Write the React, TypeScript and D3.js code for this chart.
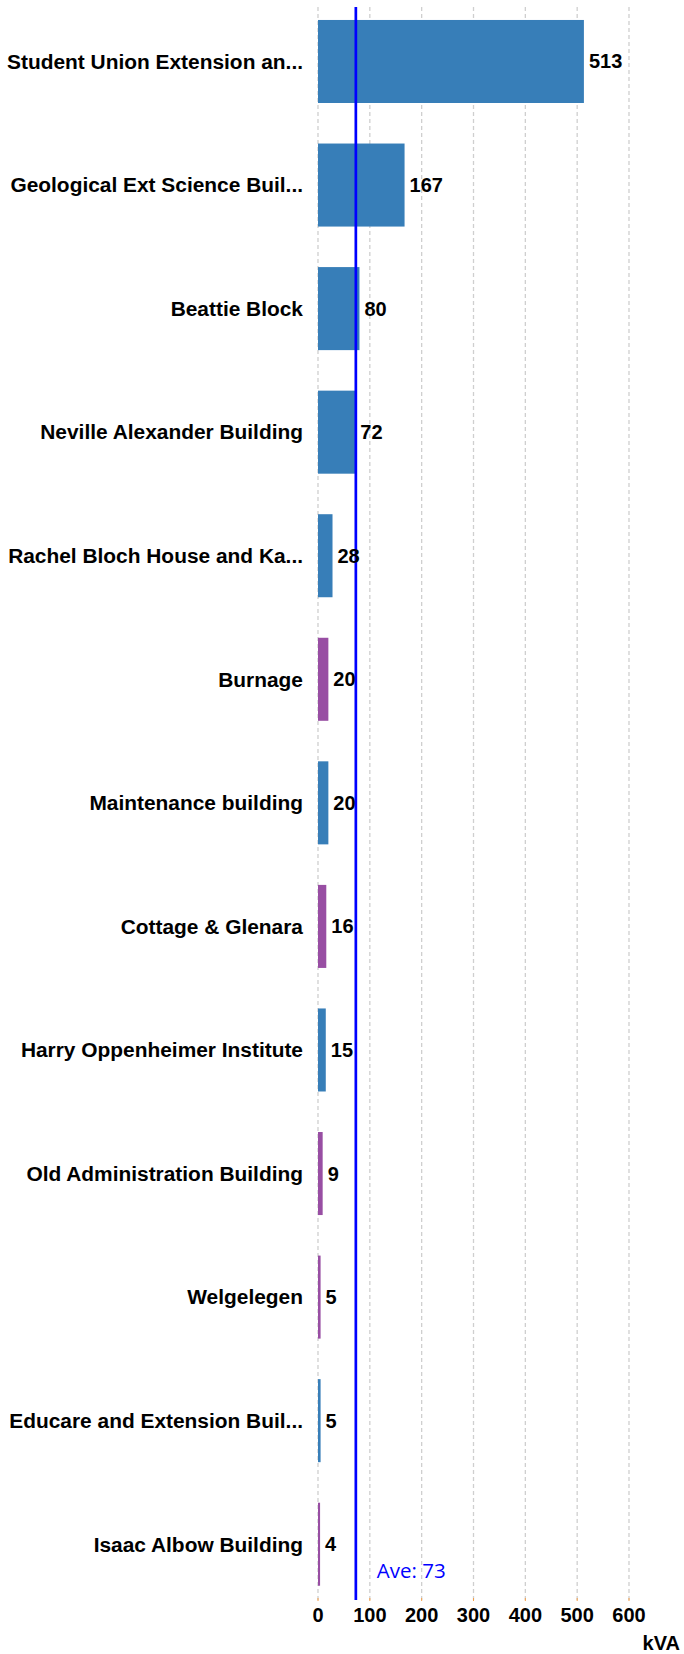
import React from "react";
import * as d3 from "d3";

const categories = [
  "Student Union Extension an...",
  "Geological Ext Science Buil...",
  "Beattie Block",
  "Neville Alexander Building",
  "Rachel Bloch House and Ka...",
  "Burnage",
  "Maintenance building",
  "Cottage & Glenara",
  "Harry Oppenheimer Institute",
  "Old Administration Building",
  "Welgelegen",
  "Educare and Extension Buil...",
  "Isaac Albow Building",
];
const values = [513, 167, 80, 72, 28, 20, 20, 16, 15, 9, 5, 5, 4];
const groups = ["A", "A", "A", "A", "A", "B", "A", "B", "A", "B", "B", "A", "B"];
const xTicks = [0, 100, 200, 300, 400, 500, 600];
const average = 73;
const unitLabel = "kVA";

const W = 684;
const H = 1654;

export default function App() {
  const x = d3.scaleLinear().domain([0, 600]).range([318, 629]);
  const y = d3
    .scaleBand<string>()
    .domain(categories)
    .range([-0.3, 1606])
    .paddingInner(0.328)
    .paddingOuter(0.164);
  const color = d3.scaleOrdinal<string, string>().domain(["A", "B"]).range(["#377eb8", "#984ea3"]);
  const labelFont = "'Liberation Sans', Arial, sans-serif";
  const fs = 20;
  const gridTop = 7;
  const gridBottom = 1600;
  return (
    <svg
      width={W}
      height={H}
      style={{ position: "absolute", left: 0, top: 0, display: "block", background: "#fff" }}
    >
      <g>
        {xTicks.map((t) => (
          <g key={t}>
            <line
              x1={x(t)}
              x2={x(t)}
              y1={gridTop}
              y2={gridBottom}
              stroke="#cfcfcf"
              strokeWidth={1.3}
              strokeDasharray="4,3"
            />
            <line x1={x(t)} x2={x(t)} y1={gridBottom - 2} y2={gridBottom + 1} stroke="#f5a04a" strokeWidth={1} />
            <text
              x={x(t)}
              y={1622}
              textAnchor="middle"
              fontFamily={labelFont}
              fontWeight="bold"
              fontSize={fs}
              fill="#000"
            >
              {t}
            </text>
          </g>
        ))}
      </g>
      <g>
        {categories.map((c, i) => (
          <rect
            key={c}
            x={x(0)}
            y={y(c)}
            width={x(values[i]) - x(0)}
            height={y.bandwidth()}
            fill={color(groups[i])}
          />
        ))}
      </g>
      <g>
        {categories.map((c) => (
          <text
            key={c}
            x={303}
            y={(y(c) as number) + y.bandwidth() / 2}
            dy="0.35em"
            textAnchor="end"
            fontFamily={labelFont}
            fontWeight="bold"
            fontSize={20.9}
            fill="#000"
          >
            {c}
          </text>
        ))}
      </g>
      <line x1={x(average)} x2={x(average)} y1={gridTop} y2={gridBottom} stroke="#0000ff" strokeWidth={2.7} />
      <g>
        {categories.map((c, i) => (
          <text
            key={c}
            x={x(values[i]) + 5}
            y={(y(c) as number) + y.bandwidth() / 2}
            dy="0.35em"
            textAnchor="start"
            fontFamily={labelFont}
            fontWeight="bold"
            fontSize={fs}
            fill="#000"
          >
            {values[i]}
          </text>
        ))}
      </g>
      <text
        x={x(average) + 21}
        y={1578}
        fontFamily="'Open Sans', sans-serif"
        fontSize={20.5}
        fill="#0000ff"
      >
        {`Ave: ${average}`}
      </text>
      <text
        x={680}
        y={1650}
        textAnchor="end"
        fontFamily={labelFont}
        fontWeight="bold"
        fontSize={fs}
        fill="#000"
      >
        {unitLabel}
      </text>
    </svg>
  );
}
